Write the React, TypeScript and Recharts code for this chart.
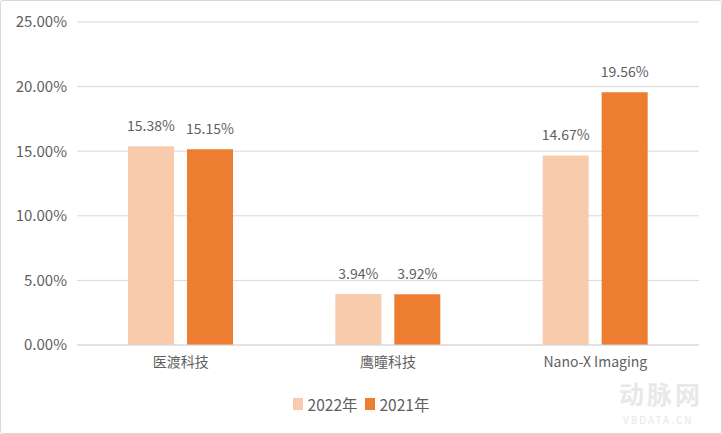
import React from 'react';
import {
  BarChart,
  Bar,
  XAxis,
  YAxis,
  CartesianGrid,
  LabelList,
} from 'recharts';

const companies = ['医渡科技', '鹰瞳科技', 'Nano-X Imaging'];
const values2022 = [15.38, 3.94, 14.67];
const values2021 = [15.15, 3.92, 19.56];
const yTicks = [0, 5, 10, 15, 20, 25];
const seriesNames = ['2022年', '2021年'];
const seriesColors = ['#F8CBAD', '#ED7D31'];

const FONT = '"Noto Sans CJK SC", "Noto Sans", sans-serif';
const TEXT = '#5f5f5f';

const data = companies.map((name, i) => ({
  name,
  y2022: values2022[i],
  y2021: values2021[i],
}));

const pct = (v: number) => `${Number(v).toFixed(2)}%`;

export default function App() {
  return (
    <div
      style={{
        position: 'absolute',
        left: 0,
        top: 0,
        width: 722,
        height: 434,
        border: '1px solid #d9d9d9',
        borderRadius: 3,
        boxSizing: 'border-box',
        background: '#fff',
        fontFamily: FONT,
        overflow: 'hidden',
      }}
    >
      <BarChart
        width={720}
        height={432}
        data={data}
        margin={{ top: 21, right: 22, left: 0, bottom: 48 }}
        barSize={46}
        barGap={13}
      >
        <CartesianGrid stroke="#d9d9d9" vertical={false} />
        <XAxis
          dataKey="name"
          axisLine={{ stroke: '#d9d9d9' }}
          tickLine={false}
          tick={{ fill: TEXT, fontSize: 14, fontFamily: FONT }}
          tickMargin={6}
          height={40}
        />
        <YAxis
          domain={[0, 25]}
          ticks={yTicks}
          tickFormatter={pct}
          axisLine={false}
          tickLine={false}
          tickSize={0}
          tickMargin={10}
          width={76}
          tick={{ fill: TEXT, fontSize: 15, fontFamily: FONT }}
        />
        <Bar dataKey="y2022" name={seriesNames[0]} fill={seriesColors[0]} isAnimationActive={false}>
          <LabelList
            dataKey="y2022"
            position="top"
            offset={15}
            formatter={(v: number) => pct(v)}
            style={{ fill: TEXT, fontSize: 14, fontFamily: FONT }}
          />
        </Bar>
        <Bar dataKey="y2021" name={seriesNames[1]} fill={seriesColors[1]} isAnimationActive={false}>
          <LabelList
            dataKey="y2021"
            position="top"
            offset={15}
            formatter={(v: number) => pct(v)}
            style={{ fill: TEXT, fontSize: 14, fontFamily: FONT }}
          />
        </Bar>
      </BarChart>
      <div
        style={{
          position: 'absolute',
          left: 0,
          right: 0,
          top: 393,
          display: 'flex',
          justifyContent: 'center',
          alignItems: 'center',
          gap: 7,
          fontSize: 15.5,
          color: TEXT,
          lineHeight: '20px',
        }}
      >
        {seriesNames.map((n, i) => (
          <span key={n} style={{ display: 'flex', alignItems: 'center', gap: 5 }}>
            <span
              style={{
                display: 'inline-block',
                width: 10,
                height: 12,
                background: seriesColors[i],
              }}
            />
            {n}
          </span>
        ))}
      </div>
      <div
        style={{
          position: 'absolute',
          left: 618,
          top: 380,
          color: '#e8e8e8',
          fontSize: 25,
          fontWeight: 700,
          letterSpacing: 3,
          lineHeight: '25px',
        }}
      >
        动脉网
      </div>
      <div
        style={{
          position: 'absolute',
          left: 622,
          top: 414,
          color: '#e8e8e8',
          fontSize: 10,
          letterSpacing: 2,
          lineHeight: '10px',
        }}
      >
        VBDATA.CN
      </div>
    </div>
  );
}
